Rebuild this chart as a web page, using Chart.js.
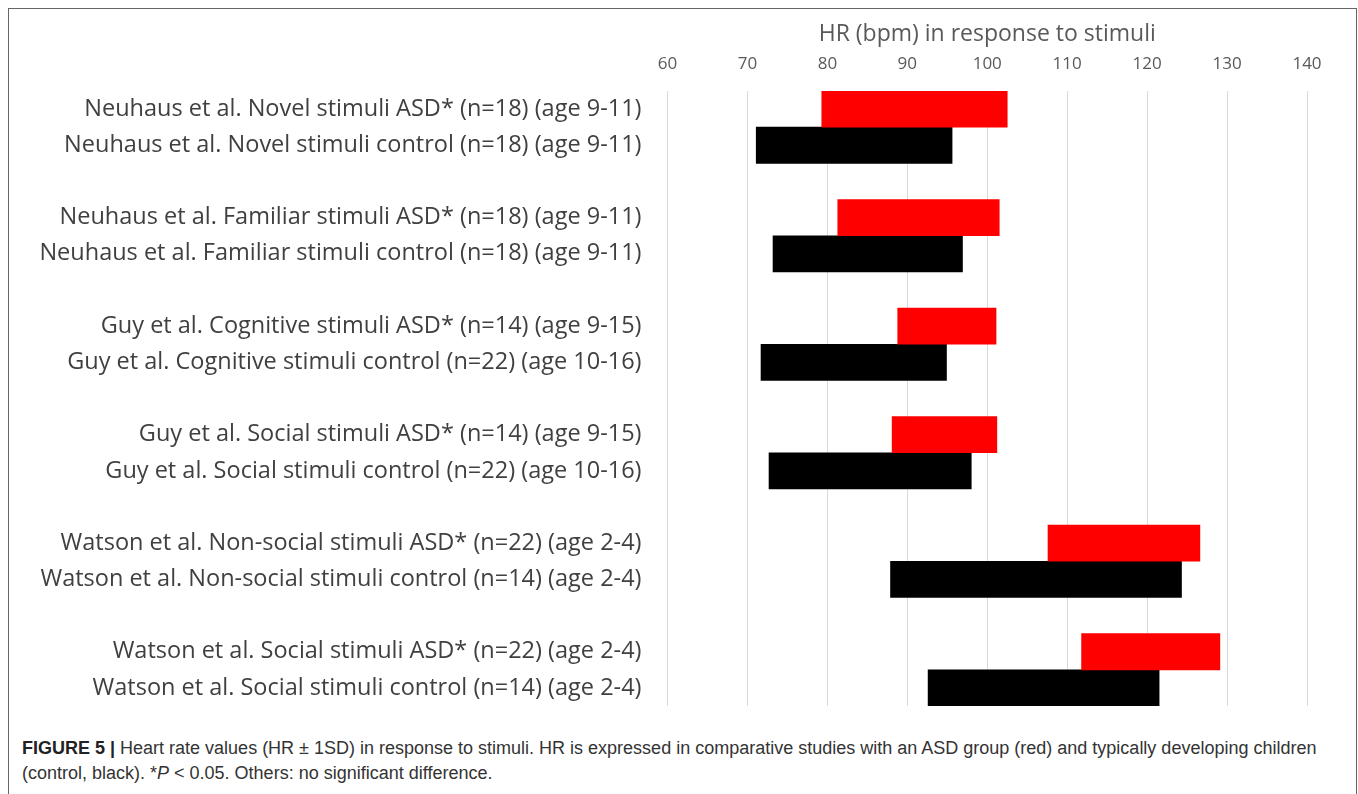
<!DOCTYPE html>
<html>
<head>
<meta charset="utf-8">
<script src="https://cdn.jsdelivr.net/npm/chart.js@4/dist/chart.umd.min.js"></script>
<style>
html,body{margin:0;padding:0;background:#fff;width:1358px;height:794px;overflow:hidden;}
#frame{position:absolute;left:8px;top:8px;width:1349px;height:820px;border:1px solid #666;border-bottom:none;box-sizing:border-box;}
#c{position:absolute;left:0;top:0;}
#cap{position:absolute;left:22px;top:736px;font-family:"Liberation Sans",Arial,sans-serif;font-size:18px;line-height:25px;color:#333;white-space:nowrap;}
#cap b{color:#222;}
</style>
</head>
<body>
<div id="frame"></div>
<canvas id="c" width="1358" height="720"></canvas>
<div id="cap"><b>FIGURE 5 |</b> Heart rate values (HR ± 1SD) in response to stimuli. HR is expressed in comparative studies with an ASD group (red) and typically developing children<br>(control, black). *<i>P</i> &lt; 0.05. Others: no significant difference.</div>
<script>
const asdLabels = [
  "Neuhaus et al. Novel stimuli ASD* (n=18) (age 9-11)",
  "Neuhaus et al. Familiar stimuli ASD* (n=18) (age 9-11)",
  "Guy et al. Cognitive stimuli ASD* (n=14) (age 9-15)",
  "Guy et al. Social stimuli ASD* (n=14) (age 9-15)",
  "Watson et al. Non-social stimuli ASD* (n=22) (age 2-4)",
  "Watson et al. Social stimuli ASD* (n=22) (age 2-4)"
];
const controlLabels = [
  "Neuhaus et al. Novel stimuli control (n=18) (age 9-11)",
  "Neuhaus et al. Familiar stimuli control (n=18) (age 9-11)",
  "Guy et al. Cognitive stimuli control (n=22) (age 10-16)",
  "Guy et al. Social stimuli control (n=22) (age 10-16)",
  "Watson et al. Non-social stimuli control (n=14) (age 2-4)",
  "Watson et al. Social stimuli control (n=14) (age 2-4)"
];
const asdLow   = [79.3, 81.3, 88.8, 88.1, 107.6, 111.8];
const asdHigh  = [102.5, 101.5, 101.1, 101.2, 126.6, 129.1];
const ctlLow   = [71.1, 73.2, 71.7, 72.7, 87.9, 92.6];
const ctlHigh  = [95.6, 96.9, 94.9, 98.0, 124.3, 121.5];
const xTicks = [60, 70, 80, 90, 100, 110, 120, 130, 140];
const axisTitle = "HR (bpm) in response to stimuli";

const labels = [], asdData = [], ctlData = [];
for (let i = 0; i < asdLabels.length; i++) {
  labels.push(asdLabels[i]); asdData.push([asdLow[i], asdHigh[i]]); ctlData.push(null);
  labels.push(controlLabels[i]); asdData.push(null); ctlData.push([ctlLow[i], ctlHigh[i]]);
  if (i < asdLabels.length - 1) { labels.push(""); asdData.push(null); ctlData.push(null); }
}

const FONT = "'Open Sans', Lato, sans-serif";
new Chart(document.getElementById('c'), {
  type: 'bar',
  data: {
    labels: labels,
    datasets: [
      { label: 'ASD', data: asdData, backgroundColor: '#ff0000', borderWidth: 0,
        barPercentage: 1, categoryPercentage: 1, grouped: false },
      { label: 'control', data: ctlData, backgroundColor: '#000000', borderWidth: 0,
        barPercentage: 1, categoryPercentage: 1, grouped: false }
    ]
  },
  options: {
    indexAxis: 'y',
    responsive: false,
    animation: false,
    layout: { padding: { left: 0, right: 51, top: 0, bottom: 14 } },
    plugins: { legend: { display: false }, tooltip: { enabled: false } },
    scales: {
      x: {
        position: 'top',
        min: xTicks[0], max: xTicks[xTicks.length - 1],
        afterBuildTicks: s => { s.ticks = xTicks.map(v => ({ value: v })); },
        afterFit: s => { s.height = 91; s.paddingLeft = 0; s.paddingRight = 0; },
        ticks: { color: '#595959', font: { family: FONT, size: 17 }, padding: 17 },
        grid: { color: '#d9d9d9', lineWidth: 1, drawTicks: false },
        border: { display: false },
        title: { display: true, text: axisTitle, color: '#595959',
                 font: { family: FONT, size: 23 }, padding: { top: 21, bottom: 0 } }
      },
      y: {
        afterFit: s => { s.width = 667.5; s.paddingTop = 0; s.paddingBottom = 0; },
        grid: { display: false, drawTicks: false },
        border: { display: false },
        ticks: { color: '#404040', font: { family: FONT, size: 23.5 }, padding: 26, autoSkip: false }
      }
    }
  }
});
</script>
</body>
</html>
